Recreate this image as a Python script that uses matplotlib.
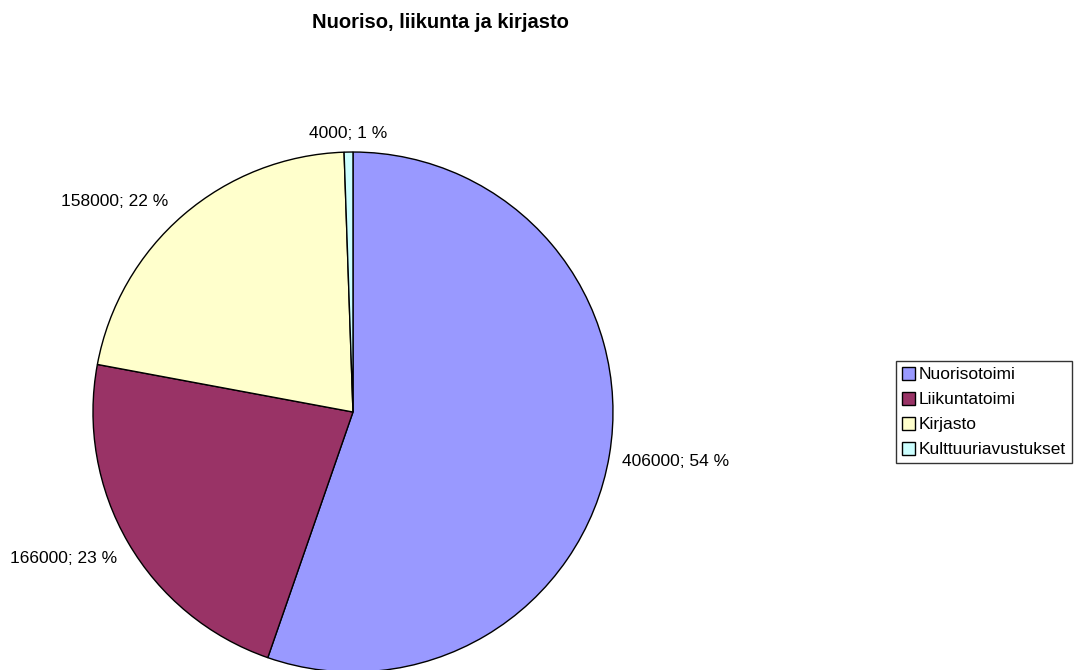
import matplotlib
matplotlib.use("Agg")
import matplotlib.pyplot as plt

plt.rcParams["font.family"] = ["Liberation Sans", "DejaVu Sans"]

categories = ["Nuorisotoimi", "Liikuntatoimi", "Kirjasto", "Kulttuuriavustukset"]
values = [406000, 166000, 158000, 4000]
percents = [54, 23, 22, 1]
colors = ["#9999FF", "#993366", "#FFFFCC", "#CCFFFF"]

labels = [f"{v}; {p} %" for v, p in zip(values, percents)]

fig = plt.figure(figsize=(10.76, 6.70), dpi=100)
ax = fig.add_axes([0.0864, -0.003, 0.4833, 0.7761])

wedges, texts = ax.pie(values, labels=labels, colors=colors, startangle=90,
                       counterclock=False, labeldistance=1.05,
                       wedgeprops=dict(edgecolor="black", linewidth=1.0),
                       textprops=dict(fontsize=12.5, color="black"))
ax.set_xlim(-1, 1)
ax.set_ylim(-1, 1)

# small nudges so the labels sit where Excel put them
nudges = [(0, -0.015), (0, -0.035), (-0.027, 0.015), (0, 0.02)]
for t, (dx, dy) in zip(texts, nudges):
    x, y = t.get_position()
    t.set_position((x + dx, y + dy))
texts[3].set_horizontalalignment("center")

fig.text(440 / 1076, 1 - 22 / 670, "Nuoriso, liikunta ja kirjasto",
         ha="center", va="center", fontsize=14.5, fontweight="bold")

leg = fig.legend(wedges, categories, loc="upper left",
                 bbox_to_anchor=(896 / 1076, 1 - 361 / 670),
                 fontsize=12.5, frameon=True, fancybox=False,
                 edgecolor="black", handlelength=0.75, handleheight=0.75,
                 handletextpad=0.2, borderpad=0.35, labelspacing=0.55,
                 borderaxespad=0)
leg.get_frame().set_linewidth(1.0)

fig.savefig("out.png", dpi=100)
